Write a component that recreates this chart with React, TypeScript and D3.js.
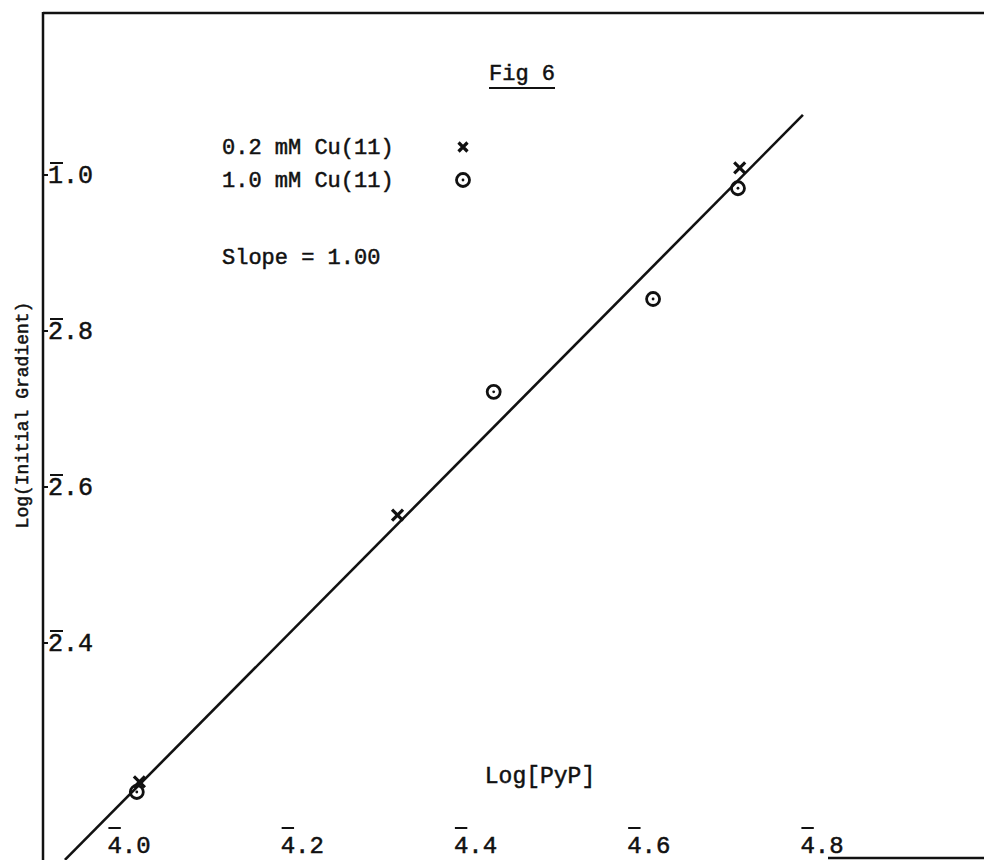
import React, { useEffect, useRef } from "react";
import * as d3 from "d3";

// x is the mantissa on the 4-bar characteristic, y is the mantissa read against 1-bar / 2-bar
const xTicks = [0.0, 0.2, 0.4, 0.6, 0.8];
const xTickLabels = ["4.0", "4.2", "4.4", "4.6", "4.8"];
const yTicks = [1.0, 0.8, 0.6, 0.4];
const yTickLabels = ["1.0", "2.8", "2.6", "2.4"];

// 0.2 mM Cu(II) points (crosses)
const lowCuX = [0.012, 0.31, 0.705];
const lowCuY = [0.222, 0.564, 1.009];
// 1.0 mM Cu(II) points (circles)
const highCuX = [0.009, 0.421, 0.605, 0.703];
const highCuY = [0.209, 0.722, 0.841, 0.983];
// fitted line, slope = 1.00
const fitX = [-0.074, 0.778];
const fitY = [0.122, 1.077];

const legendLabels = ["0.2 mM Cu(11)", "1.0 mM Cu(11)"];

const FONT = "'Liberation Mono', 'DejaVu Sans Mono', monospace";
const INK = "#111";

export default function App() {
  const ref = useRef<SVGSVGElement>(null);

  useEffect(() => {
    const svg = d3.select(ref.current);
    svg.selectAll("*").remove();

    const width = 984;
    const height = 860;

    const xScale = d3.scaleLinear().domain([0, 0.8]).range([129, 822]);
    const yScale = d3.scaleLinear().domain([0.4, 1.0]).range([643, 175]);

    svg.append("rect").attr("width", width).attr("height", height).attr("fill", "#fff");

    // typewriter ink is heavy, so give the text a thin outline
    const typed = (sel: any, size: number) =>
      sel
        .style("font-family", FONT)
        .style("font-size", size + "px")
        .attr("fill", INK)
        .attr("stroke", INK)
        .attr("stroke-width", 0.5);

    // ---- frame ----
    const axisX = 43;
    svg.append("line")
      .attr("x1", axisX).attr("y1", 13).attr("x2", width).attr("y2", 13)
      .attr("stroke", INK).attr("stroke-width", 2.5);
    svg.append("line")
      .attr("x1", axisX).attr("y1", 12).attr("x2", axisX).attr("y2", height)
      .attr("stroke", INK).attr("stroke-width", 2.5);
    svg.append("line")
      .attr("x1", 828).attr("y1", 858).attr("x2", width).attr("y2", 858)
      .attr("stroke", INK).attr("stroke-width", 2.5);

    // ---- y ticks ----
    const yFs = 25;
    const yG = svg.append("g");
    yTicks.forEach((t, i) => {
      const yy = yScale(t);
      yG.append("line")
        .attr("x1", axisX).attr("x2", axisX + 5)
        .attr("y1", yy).attr("y2", yy)
        .attr("stroke", INK).attr("stroke-width", 2);
      typed(
        yG.append("text").attr("x", 48).attr("y", yy + 8).text(yTickLabels[i]),
        yFs
      );
      yG.append("line")
        .attr("x1", 50).attr("x2", 48 + yFs * 0.6)
        .attr("y1", yy - 12).attr("y2", yy - 12)
        .attr("stroke", INK).attr("stroke-width", 2);
    });

    // ---- x ticks ----
    const xFs = 24;
    const xG = svg.append("g");
    xTicks.forEach((t, i) => {
      const xx = xScale(t);
      const w = xFs * 0.6 * 3;
      typed(
        xG.append("text")
          .attr("x", xx).attr("y", 853)
          .attr("text-anchor", "middle")
          .text(xTickLabels[i]),
        xFs
      );
      xG.append("line")
        .attr("x1", xx - w / 2 + 1).attr("x2", xx - w / 2 + xFs * 0.6 - 1)
        .attr("y1", 828).attr("y2", 828)
        .attr("stroke", INK).attr("stroke-width", 2);
    });

    // ---- axis titles ----
    typed(
      svg.append("text")
        .attr("x", 540).attr("y", 783)
        .attr("text-anchor", "middle")
        .text("Log[PyP]"),
      23
    );

    typed(
      svg.append("text")
        .attr("transform", "translate(28,415) rotate(-90)")
        .attr("text-anchor", "middle")
        .text("Log(Initial Gradient)"),
      18
    );

    // ---- title ----
    typed(
      svg.append("text")
        .attr("x", 522).attr("y", 80)
        .attr("text-anchor", "middle")
        .text("Fig 6"),
      22
    );
    svg.append("line")
      .attr("x1", 489).attr("x2", 555).attr("y1", 88).attr("y2", 88)
      .attr("stroke", INK).attr("stroke-width", 2.2);

    // ---- fitted line ----
    const line = d3.line<number>()
      .x((d, i) => xScale(fitX[i]))
      .y((d) => yScale(d));
    svg.append("path")
      .attr("d", line(fitY))
      .attr("fill", "none")
      .attr("stroke", INK)
      .attr("stroke-width", 2.6);

    // ---- markers ----
    const drawCross = (g: any, cx: number, cy: number, s: number) => {
      g.append("path")
        .attr("d", `M${cx - s},${cy - s}L${cx + s},${cy + s}M${cx + s},${cy - s}L${cx - s},${cy + s}`)
        .attr("stroke", INK).attr("stroke-width", 3.2).attr("fill", "none");
    };
    const drawCircle = (g: any, cx: number, cy: number, r: number) => {
      g.append("circle")
        .attr("cx", cx).attr("cy", cy).attr("r", r)
        .attr("fill", "none").attr("stroke", INK).attr("stroke-width", 2.8);
      g.append("circle")
        .attr("cx", cx).attr("cy", cy).attr("r", 1.4)
        .attr("fill", INK);
    };

    const pts = svg.append("g");
    lowCuX.forEach((v, i) => drawCross(pts, xScale(v), yScale(lowCuY[i]), 5.5));
    highCuX.forEach((v, i) => drawCircle(pts, xScale(v), yScale(highCuY[i]), 6.5));

    // ---- legend ----
    const leg = svg.append("g");
    const legY = [147, 180];
    legendLabels.forEach((lab, i) => {
      typed(
        leg.append("text").attr("x", 222).attr("y", legY[i] + 7).text(lab),
        22
      );
    });
    drawCross(leg, 463, legY[0], 4.5);
    drawCircle(leg, 463, legY[1], 6.5);

    typed(leg.append("text").attr("x", 222).attr("y", 264).text("Slope = 1.00"), 22);
  }, []);

  return (
    <svg
      ref={ref}
      width={984}
      height={860}
      style={{ position: "absolute", left: 0, top: 0, display: "block" }}
    />
  );
}
